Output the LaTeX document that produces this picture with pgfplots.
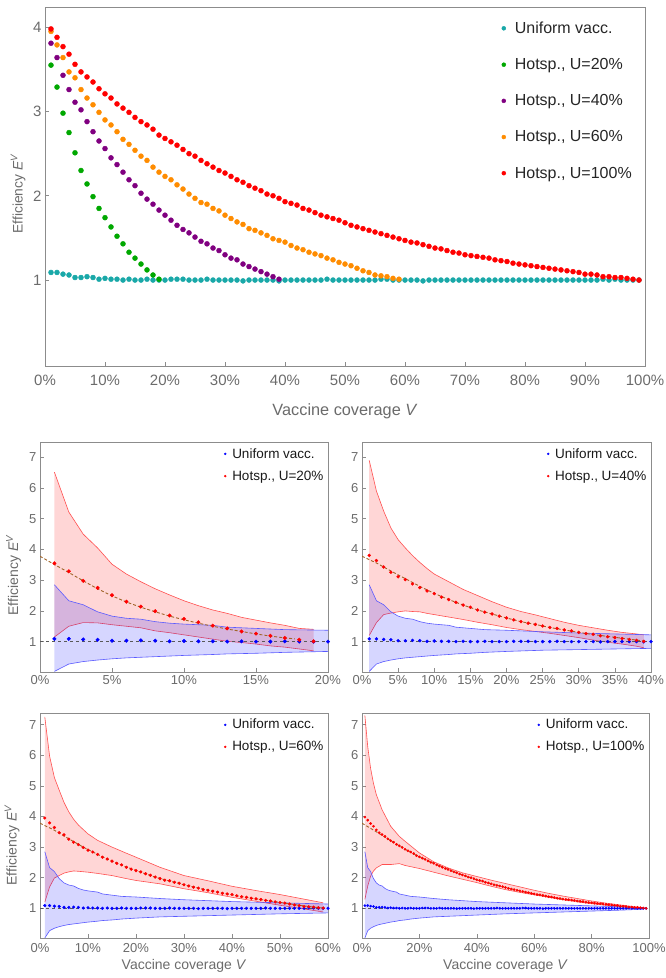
\documentclass[border=0pt]{standalone}
\usepackage{pgfplots}
\pgfplotsset{compat=1.18}
\usepackage{pgfplotstable}
\usepackage{fontspec}
\setmainfont{Liberation Sans}

\definecolor{cuni}{RGB}{25,168,168}
\definecolor{cgreen}{RGB}{0,168,0}
\definecolor{cpurple}{RGB}{128,0,128}
\definecolor{corange}{RGB}{255,140,0}
\definecolor{cred}{RGB}{255,0,0}
\definecolor{cblue}{RGB}{0,0,255}
\definecolor{rline}{RGB}{255,80,80}
\definecolor{bline}{RGB}{90,90,255}
\definecolor{fitc}{RGB}{160,100,40}
\definecolor{frame}{gray}{0.55}
\definecolor{tlab}{gray}{0.42}

\pgfplotstableread{
V E
0.01 1.09
0.02 1.09
0.03 1.07
0.04 1.06
0.05 1.03
0.06 1.03
0.07 1.04
0.08 1.03
0.09 1.01
0.10 1.02
0.11 1.01
0.12 1.01
0.13 1.00
0.14 1.01
0.15 1.00
0.16 1.00
0.17 1.01
0.18 1.00
0.19 1.00
0.20 1.00
0.21 1.01
0.22 1.01
0.23 1.01
0.24 1.00
0.25 1.00
0.26 1.00
0.27 1.01
0.28 1.00
0.29 1.00
0.30 1.00
0.31 1.00
0.32 1.00
0.33 0.99
0.34 1.00
0.35 1.00
0.36 1.00
0.37 1.00
0.38 1.00
0.39 0.99
0.40 1.00
0.41 1.00
0.42 1.00
0.43 1.00
0.44 1.00
0.45 1.00
0.46 1.00
0.47 1.01
0.48 1.00
0.49 1.00
0.50 1.00
0.51 1.00
0.52 1.00
0.53 1.00
0.54 1.00
0.55 1.00
0.56 1.01
0.57 1.01
0.58 1.00
0.59 1.00
0.60 1.00
0.61 1.00
0.62 1.00
0.63 0.99
0.64 1.00
0.65 1.00
0.66 1.00
0.67 1.00
0.68 1.00
0.69 1.00
0.70 1.00
0.71 1.00
0.72 1.00
0.73 1.00
0.74 1.00
0.75 1.00
0.76 1.00
0.77 1.00
0.78 1.00
0.79 1.00
0.80 1.00
0.81 1.00
0.82 1.00
0.83 1.00
0.84 1.00
0.85 1.00
0.86 1.00
0.87 1.00
0.88 1.00
0.89 1.00
0.90 1.00
0.91 1.00
0.92 1.00
0.93 1.01
0.94 1.00
0.95 1.01
0.96 1.00
0.97 1.00
0.98 1.00
0.99 1.00
}\uni

\pgfplotstableread{
V E
0.01 3.55
0.02 3.29
0.03 2.98
0.04 2.75
0.05 2.51
0.06 2.30
0.07 2.14
0.08 1.99
0.09 1.85
0.10 1.74
0.11 1.63
0.12 1.52
0.13 1.43
0.14 1.33
0.15 1.26
0.16 1.19
0.17 1.12
0.18 1.06
0.19 1.01
}\hA

\pgfplotstableread{
V E
0.01 3.81
0.02 3.64
0.03 3.43
0.04 3.26
0.05 3.11
0.06 3.02
0.07 2.88
0.08 2.76
0.09 2.65
0.10 2.56
0.11 2.45
0.12 2.37
0.13 2.28
0.14 2.19
0.15 2.12
0.16 2.03
0.17 1.96
0.18 1.90
0.19 1.83
0.20 1.77
0.21 1.71
0.22 1.65
0.23 1.60
0.24 1.56
0.25 1.51
0.26 1.46
0.27 1.43
0.28 1.38
0.29 1.35
0.30 1.30
0.31 1.26
0.32 1.24
0.33 1.19
0.34 1.16
0.35 1.13
0.36 1.10
0.37 1.07
0.38 1.04
0.39 1.01
}\hB

\pgfplotstableread{
V E
0.01 3.95
0.02 3.79
0.03 3.64
0.04 3.47
0.05 3.40
0.06 3.26
0.07 3.16
0.08 3.08
0.09 2.99
0.10 2.90
0.11 2.84
0.12 2.76
0.13 2.67
0.14 2.61
0.15 2.54
0.16 2.47
0.17 2.42
0.18 2.34
0.19 2.28
0.20 2.23
0.21 2.19
0.22 2.13
0.23 2.08
0.24 2.02
0.25 1.97
0.26 1.92
0.27 1.90
0.28 1.85
0.29 1.82
0.30 1.77
0.31 1.73
0.32 1.69
0.33 1.66
0.34 1.61
0.35 1.59
0.36 1.56
0.37 1.53
0.38 1.49
0.39 1.47
0.40 1.45
0.41 1.41
0.42 1.38
0.43 1.36
0.44 1.33
0.45 1.31
0.46 1.29
0.47 1.26
0.48 1.24
0.49 1.21
0.50 1.19
0.51 1.17
0.52 1.14
0.53 1.11
0.54 1.09
0.55 1.06
0.56 1.05
0.57 1.04
0.58 1.02
0.59 1.01
}\hC

\pgfplotstableread{
V E
0.01 3.98
0.02 3.88
0.03 3.77
0.04 3.68
0.05 3.56
0.06 3.47
0.07 3.41
0.08 3.35
0.09 3.27
0.10 3.21
0.11 3.16
0.12 3.09
0.13 3.04
0.14 2.99
0.15 2.93
0.16 2.88
0.17 2.84
0.18 2.79
0.19 2.72
0.20 2.68
0.21 2.64
0.22 2.60
0.23 2.55
0.24 2.50
0.25 2.47
0.26 2.42
0.27 2.38
0.28 2.34
0.29 2.30
0.30 2.27
0.31 2.23
0.32 2.19
0.33 2.16
0.34 2.12
0.35 2.09
0.36 2.06
0.37 2.02
0.38 2.00
0.39 1.97
0.40 1.93
0.41 1.91
0.42 1.89
0.43 1.85
0.44 1.83
0.45 1.80
0.46 1.77
0.47 1.75
0.48 1.73
0.49 1.71
0.50 1.68
0.51 1.65
0.52 1.63
0.53 1.61
0.54 1.59
0.55 1.57
0.56 1.55
0.57 1.53
0.58 1.51
0.59 1.49
0.60 1.47
0.61 1.45
0.62 1.44
0.63 1.42
0.64 1.40
0.65 1.38
0.66 1.37
0.67 1.35
0.68 1.33
0.69 1.32
0.70 1.30
0.71 1.29
0.72 1.28
0.73 1.27
0.74 1.26
0.75 1.24
0.76 1.23
0.77 1.22
0.78 1.20
0.79 1.19
0.80 1.18
0.81 1.17
0.82 1.16
0.83 1.15
0.84 1.14
0.85 1.13
0.86 1.12
0.87 1.11
0.88 1.10
0.89 1.09
0.90 1.07
0.91 1.07
0.92 1.06
0.93 1.04
0.94 1.04
0.95 1.03
0.96 1.03
0.97 1.02
0.98 1.01
0.99 1.00
}\hD

% ---- band edges (V, upper, lower) ----
\pgfplotstableread{
V up lo
0.01 2.85 0.03
0.02 2.33 0.27
0.03 2.20 0.35
0.04 1.97 0.40
0.05 1.83 0.44
0.06 1.76 0.47
0.07 1.73 0.49
0.08 1.65 0.51
0.09 1.60 0.53
0.10 1.57 0.55
0.12 1.53 0.58
0.13 1.47 0.60
0.15 1.43 0.62
0.17 1.39 0.65
0.20 1.37 0.68
0.25 1.32 0.72
0.30 1.28 0.74
0.35 1.25 0.76
0.40 1.22 0.78
0.50 1.18 0.82
0.60 1.14 0.85
0.70 1.11 0.88
0.80 1.08 0.91
0.90 1.05 0.94
0.98 1.02 0.97
}\bband

\pgfplotstableread{
V up lo
0.01 6.52 1.15
0.02 5.22 1.50
0.03 4.50 1.62
0.04 4.05 1.61
0.05 3.52 1.55
0.06 3.20 1.50
0.07 2.95 1.45
0.08 2.72 1.35
0.09 2.52 1.29
0.10 2.33 1.22
0.11 2.17 1.15
0.12 2.03 1.08
0.13 1.92 1.01
0.14 1.79 0.97
0.15 1.70 0.92
0.16 1.61 0.86
0.17 1.53 0.82
0.18 1.43 0.76
0.19 1.40 0.70
}\rA

\pgfplotstableread{
V up lo
0.01 6.90 1.20
0.02 5.90 1.62
0.03 5.25 1.88
0.04 4.70 1.93
0.05 4.32 1.97
0.06 4.05 2.00
0.07 3.80 1.98
0.08 3.58 1.97
0.09 3.38 1.92
0.10 3.20 1.88
0.12 2.95 1.80
0.14 2.70 1.72
0.16 2.50 1.63
0.18 2.30 1.55
0.20 2.12 1.46
0.22 1.98 1.39
0.24 1.87 1.33
0.26 1.75 1.27
0.28 1.63 1.20
0.30 1.53 1.13
0.32 1.45 1.05
0.34 1.37 0.98
0.36 1.30 0.92
0.38 1.25 0.85
0.39 1.22 0.80
}\rB

\pgfplotstableread{
V up lo
0.01 7.25 1.20
0.02 5.97 1.70
0.03 5.27 1.99
0.04 4.86 2.07
0.05 4.46 2.15
0.06 4.15 2.19
0.07 3.91 2.22
0.08 3.72 2.21
0.10 3.43 2.18
0.12 3.22 2.14
0.15 3.00 2.07
0.18 2.80 1.97
0.20 2.67 1.91
0.25 2.34 1.80
0.30 2.07 1.64
0.35 1.90 1.51
0.40 1.72 1.36
0.45 1.58 1.23
0.50 1.45 1.10
0.55 1.30 0.98
0.59 1.18 0.88
}\rC

\pgfplotstableread{
V up lo
0.01 7.30 1.29
0.02 6.28 1.73
0.03 5.57 2.05
0.04 5.08 2.22
0.05 4.71 2.32
0.07 4.22 2.43
0.10 3.68 2.43
0.13 3.35 2.46
0.15 3.19 2.40
0.20 2.81 2.30
0.25 2.52 2.18
0.30 2.32 2.06
0.35 2.16 1.95
0.40 2.04 1.84
0.45 1.92 1.72
0.50 1.81 1.61
0.55 1.70 1.52
0.60 1.59 1.44
0.65 1.49 1.36
0.70 1.40 1.28
0.75 1.32 1.21
0.80 1.24 1.15
0.85 1.17 1.10
0.90 1.11 1.05
0.95 1.05 1.01
0.99 1.01 0.99
}\rD

% ---- band outlines as polygons (upper forward, lower back) ----
\pgfplotstableread{
V E
0.01 2.85
0.02 2.33
0.03 2.20
0.04 1.97
0.05 1.83
0.06 1.76
0.07 1.73
0.08 1.65
0.09 1.60
0.10 1.57
0.12 1.53
0.13 1.47
0.15 1.43
0.17 1.39
0.20 1.37
0.25 1.32
0.30 1.28
0.35 1.25
0.40 1.22
0.50 1.18
0.60 1.14
0.70 1.11
0.80 1.08
0.90 1.05
0.98 1.02
0.98 0.97
0.90 0.94
0.80 0.91
0.70 0.88
0.60 0.85
0.50 0.82
0.40 0.78
0.35 0.76
0.30 0.74
0.25 0.72
0.20 0.68
0.17 0.65
0.15 0.62
0.13 0.60
0.12 0.58
0.10 0.55
0.09 0.53
0.08 0.51
0.07 0.49
0.06 0.47
0.05 0.44
0.04 0.40
0.03 0.35
0.02 0.27
0.01 0.03
}\bpoly

\pgfplotstableread{
V E
0.01 6.52
0.02 5.22
0.03 4.50
0.04 4.05
0.05 3.52
0.06 3.20
0.07 2.95
0.08 2.72
0.09 2.52
0.10 2.33
0.11 2.17
0.12 2.03
0.13 1.92
0.14 1.79
0.15 1.70
0.16 1.61
0.17 1.53
0.18 1.43
0.19 1.40
0.19 0.70
0.18 0.76
0.17 0.82
0.16 0.86
0.15 0.92
0.14 0.97
0.13 1.01
0.12 1.08
0.11 1.15
0.10 1.22
0.09 1.29
0.08 1.35
0.07 1.45
0.06 1.50
0.05 1.55
0.04 1.61
0.03 1.62
0.02 1.50
0.01 1.15
}\rpA

\pgfplotstableread{
V E
0.01 6.90
0.02 5.90
0.03 5.25
0.04 4.70
0.05 4.32
0.06 4.05
0.07 3.80
0.08 3.58
0.09 3.38
0.10 3.20
0.12 2.95
0.14 2.70
0.16 2.50
0.18 2.30
0.20 2.12
0.22 1.98
0.24 1.87
0.26 1.75
0.28 1.63
0.30 1.53
0.32 1.45
0.34 1.37
0.36 1.30
0.38 1.25
0.39 1.22
0.39 0.80
0.38 0.85
0.36 0.92
0.34 0.98
0.32 1.05
0.30 1.13
0.28 1.20
0.26 1.27
0.24 1.33
0.22 1.39
0.20 1.46
0.18 1.55
0.16 1.63
0.14 1.72
0.12 1.80
0.10 1.88
0.09 1.92
0.08 1.97
0.07 1.98
0.06 2.00
0.05 1.97
0.04 1.93
0.03 1.88
0.02 1.62
0.01 1.20
}\rpB

\pgfplotstableread{
V E
0.01 7.25
0.02 5.97
0.03 5.27
0.04 4.86
0.05 4.46
0.06 4.15
0.07 3.91
0.08 3.72
0.10 3.43
0.12 3.22
0.15 3.00
0.18 2.80
0.20 2.67
0.25 2.34
0.30 2.07
0.35 1.90
0.40 1.72
0.45 1.58
0.50 1.45
0.55 1.30
0.59 1.18
0.59 0.88
0.55 0.98
0.50 1.10
0.45 1.23
0.40 1.36
0.35 1.51
0.30 1.64
0.25 1.80
0.20 1.91
0.18 1.97
0.15 2.07
0.12 2.14
0.10 2.18
0.08 2.21
0.07 2.22
0.06 2.19
0.05 2.15
0.04 2.07
0.03 1.99
0.02 1.70
0.01 1.20
}\rpC

\pgfplotstableread{
V E
0.01 7.30
0.02 6.28
0.03 5.57
0.04 5.08
0.05 4.71
0.07 4.22
0.10 3.68
0.13 3.35
0.15 3.19
0.20 2.81
0.25 2.52
0.30 2.32
0.35 2.16
0.40 2.04
0.45 1.92
0.50 1.81
0.55 1.70
0.60 1.59
0.65 1.49
0.70 1.40
0.75 1.32
0.80 1.24
0.85 1.17
0.90 1.11
0.95 1.05
0.99 1.01
0.99 0.99
0.95 1.01
0.90 1.05
0.85 1.10
0.80 1.15
0.75 1.21
0.70 1.28
0.65 1.36
0.60 1.44
0.55 1.52
0.50 1.61
0.45 1.72
0.40 1.84
0.35 1.95
0.30 2.06
0.25 2.18
0.20 2.30
0.15 2.40
0.13 2.46
0.10 2.43
0.07 2.43
0.05 2.32
0.04 2.22
0.03 2.05
0.02 1.73
0.01 1.29
}\rpD

\pgfplotsset{
  base/.style={
    scale only axis, anchor=south west,
    axis line style={draw=frame, line width=0.8pt},
    tick style={draw=frame, line width=0.6pt},
    tick align=inside, major tick length=4pt,
    xtick pos=bottom, ytick pos=left,
    tick label style={text=tlab},
    label style={text=tlab},
    xlabel style={anchor=center},
    ylabel style={anchor=center},
  },
  small/.style={
    base, ymin=0.01, ymax=7.5,
    ytick={1,2,3,4,5,6,7}, yticklabels={1,2,3,4,5,6,7},
    tick label style={font=\fontsize{13}{15}\selectfont},
    label style={font=\fontsize{14}{17}\selectfont},
    legend cell align=left,
    legend style={draw=none, fill=none, inner sep=0pt,
      at={(axis description cs:0.99,0.98)}, anchor=north east,
      font=\fontsize{13.5}{16}\selectfont, text=black!90, row sep=8pt, column sep=4.5pt,
      nodes={inner sep=1.5pt}},
    legend image post style={mark size=1pt},
  },
  rfill/.style={fill=red, fill opacity=0.16, draw=none, forget plot},
  bfill/.style={fill=blue, fill opacity=0.16, draw=none, forget plot},
  redge/.style={draw=rline, line width=0.6pt, forget plot},
  bedge/.style={draw=bline, line width=0.6pt, forget plot},
  oneline/.style={black!65, dashed, line width=0.6pt, forget plot},
  fitline/.style={fitc, dash pattern=on 3pt off 2pt, line width=0.9pt, forget plot},
}
\newcommand\ylab{Efficiency \textit{E}\textsuperscript{\textit{V}}}
\newcommand\xlab{Vaccine coverage \textit{V}}

\begin{document}
\begin{tikzpicture}
\path[use as bounding box] (0,0) rectangle (666pt,-978pt);

% ---------- top panel ----------
\begin{axis}[base, at={(45pt,-366pt)}, width=600pt, height=359pt,
  xmin=0, xmax=1, ymin=-0.02, ymax=4.24,
  tick label style={font=\fontsize{15}{18}\selectfont},
  xticklabel style={yshift=-5pt},
  xtick={0,0.1,0.2,0.3,0.4,0.5,0.6,0.7,0.8,0.9,1},
  xticklabels={0\%,10\%,20\%,30\%,40\%,50\%,60\%,70\%,80\%,90\%,100\%},
  ytick={1,2,3,4}, yticklabels={1,2,3,4},
  xlabel={\xlab}, ylabel={\ylab},
  xlabel style={font=\fontsize{16.3}{19}\selectfont, at={(axis description cs:0.5,-0.127)}},
  ylabel style={font=\fontsize{13.8}{17}\selectfont, at={(axis description cs:-0.045,0.48)}},
  legend cell align=left,
  legend style={draw=none, fill=none, inner sep=0pt,
    at={(axis description cs:0.761,0.965)}, anchor=north west,
    font=\fontsize{16}{19}\selectfont, text=black!85, row sep=19.5pt, column sep=7pt},
  legend image post style={mark size=2pt},
]
\addplot[only marks, mark=*, mark size=2.5pt, color=cuni] table[x=V,y=E]{\uni};
\addlegendentry{Uniform vacc.}
\addplot[only marks, mark=*, mark size=2.5pt, color=cgreen] table[x=V,y=E]{\hA};
\addlegendentry{Hotsp., U=20\%}
\addplot[only marks, mark=*, mark size=2.5pt, color=cpurple] table[x=V,y=E]{\hB};
\addlegendentry{Hotsp., U=40\%}
\addplot[only marks, mark=*, mark size=2.5pt, color=corange] table[x=V,y=E]{\hC};
\addlegendentry{Hotsp., U=60\%}
\addplot[only marks, mark=*, mark size=2.5pt, color=cred] table[x=V,y=E]{\hD};
\addlegendentry{Hotsp., U=100\%}
\end{axis}

% ---------- U=20% ----------
\begin{axis}[small, at={(40pt,-672pt)}, width=288pt, height=230pt,
  xmin=0, xmax=0.2,
  xtick={0,0.05,0.1,0.15,0.2}, xticklabels={0\%,5\%,10\%,15\%,20\%},
  ylabel={\ylab}, ylabel style={at={(axis description cs:-0.092,0.422)}}]
\addplot[rfill] table[x=V,y=E]{\rpA};
\addplot[redge] table[x=V,y=up]{\rA};
\addplot[redge] table[x=V,y=lo]{\rA};
\addplot[bfill] table[x=V,y=E]{\bpoly};
\addplot[bedge] table[x=V,y=up]{\bband};
\addplot[bedge] table[x=V,y=lo]{\bband};
\addplot[oneline] coordinates {(0,1) (1,1)};
\addplot[fitline] coordinates {(0,3.78)(0.01,3.51)(0.02,3.25)(0.03,2.98)(0.04,2.72)(0.05,2.49)(0.06,2.29)(0.07,2.12)(0.08,1.97)(0.09,1.83)(0.10,1.71)(0.11,1.60)(0.12,1.50)(0.13,1.41)(0.14,1.33)(0.15,1.25)(0.16,1.18)(0.17,1.12)(0.177,1.09)};
\addplot[only marks, mark=*, mark size=1.8pt, color=cblue] table[x=V,y=E]{\uni};
\addlegendentry{Uniform vacc.}
\addplot[only marks, mark=*, mark size=1.8pt, color=cred] table[x=V,y=E]{\hA};
\addlegendentry{Hotsp., U=20\%}
\end{axis}

% ---------- U=40% ----------
\begin{axis}[small, at={(362pt,-672pt)}, width=289pt, height=230pt,
  xmin=0, xmax=0.4,
  xtick={0,0.05,0.1,0.15,0.2,0.25,0.3,0.35,0.4}, xticklabels={0\%,5\%,10\%,15\%,20\%,25\%,30\%,35\%,40\%}]
\addplot[rfill] table[x=V,y=E]{\rpB};
\addplot[redge] table[x=V,y=up]{\rB};
\addplot[redge] table[x=V,y=lo]{\rB};
\addplot[bfill] table[x=V,y=E]{\bpoly};
\addplot[bedge] table[x=V,y=up]{\bband};
\addplot[bedge] table[x=V,y=lo]{\bband};
\addplot[oneline] coordinates {(0,1) (1,1)};
\addplot[fitline] coordinates {(0,3.78)(0.02,3.56)(0.04,3.30)(0.06,3.05)(0.08,2.80)(0.10,2.57)(0.12,2.37)(0.14,2.19)(0.16,2.03)(0.18,1.90)(0.20,1.77)(0.22,1.65)(0.24,1.56)(0.26,1.46)(0.28,1.38)(0.30,1.30)(0.32,1.23)(0.34,1.17)(0.36,1.11)(0.38,1.05)(0.39,1.02)};
\addplot[only marks, mark=*, mark size=1.5pt, color=cblue] table[x=V,y=E]{\uni};
\addlegendentry{Uniform vacc.}
\addplot[only marks, mark=*, mark size=1.5pt, color=cred] table[x=V,y=E]{\hB};
\addlegendentry{Hotsp., U=40\%}
\end{axis}

% ---------- U=60% ----------
\begin{axis}[small, at={(40pt,-938pt)}, width=288pt, height=225pt,
  xmin=0, xmax=0.6, ymin=0.03, ymax=7.38,
  xticklabel style={yshift=-1.5pt},
  xtick={0,0.1,0.2,0.3,0.4,0.5,0.6}, xticklabels={0\%,10\%,20\%,30\%,40\%,50\%,60\%},
  xlabel={\xlab}, ylabel={\ylab},
  xlabel style={at={(axis description cs:0.5,-0.124)}},
  ylabel style={at={(axis description cs:-0.097,0.413)}}]
\addplot[rfill] table[x=V,y=E]{\rpC};
\addplot[redge] table[x=V,y=up]{\rC};
\addplot[redge] table[x=V,y=lo]{\rC};
\addplot[bfill] table[x=V,y=E]{\bpoly};
\addplot[bedge] table[x=V,y=up]{\bband};
\addplot[bedge] table[x=V,y=lo]{\bband};
\addplot[oneline] coordinates {(0,1) (1,1)};
\addplot[fitline] coordinates {(0,3.78)(0.03,3.55)(0.06,3.27)(0.09,3.00)(0.12,2.76)(0.15,2.54)(0.18,2.35)(0.21,2.18)(0.24,2.02)(0.27,1.89)(0.30,1.77)(0.33,1.66)(0.36,1.56)(0.39,1.47)(0.42,1.38)(0.45,1.31)(0.48,1.24)(0.51,1.17)(0.54,1.10)(0.57,1.04)(0.59,1.01)};
\addplot[only marks, mark=*, mark size=1.4pt, color=cblue] table[x=V,y=E]{\uni};
\addlegendentry{Uniform vacc.}
\addplot[only marks, mark=*, mark size=1.4pt, color=cred] table[x=V,y=E]{\hC};
\addlegendentry{Hotsp., U=60\%}
\end{axis}

% ---------- U=100% ----------
\begin{axis}[small, at={(362pt,-938pt)}, width=287pt, height=225pt,
  xmin=0, xmax=1, ymin=0.03, ymax=7.38,
  xticklabel style={yshift=-1.5pt},
  xtick={0,0.2,0.4,0.6,0.8,1}, xticklabels={0\%,20\%,40\%,60\%,80\%,100\%},
  xlabel={\xlab}, xlabel style={at={(axis description cs:0.5,-0.124)}}]
\addplot[rfill] table[x=V,y=E]{\rpD};
\addplot[redge] table[x=V,y=up]{\rD};
\addplot[redge] table[x=V,y=lo]{\rD};
\addplot[bfill] table[x=V,y=E]{\bpoly};
\addplot[bedge] table[x=V,y=up]{\bband};
\addplot[bedge] table[x=V,y=lo]{\bband};
\addplot[oneline] coordinates {(0,1) (1,1)};
\addplot[fitline] coordinates {(0,3.78)(0.05,3.50)(0.10,3.21)(0.15,2.93)(0.20,2.68)(0.25,2.47)(0.30,2.27)(0.35,2.09)(0.40,1.93)(0.45,1.80)(0.50,1.68)(0.55,1.57)(0.60,1.47)(0.65,1.38)(0.70,1.30)(0.75,1.24)(0.80,1.18)(0.85,1.13)(0.90,1.07)(0.95,1.03)(0.99,1.00)};
\addplot[only marks, mark=*, mark size=1.15pt, color=cblue] table[x=V,y=E]{\uni};
\addlegendentry{Uniform vacc.}
\addplot[only marks, mark=*, mark size=1.15pt, color=cred] table[x=V,y=E]{\hD};
\addlegendentry{Hotsp., U=100\%}
\end{axis}
\end{tikzpicture}
\end{document}
